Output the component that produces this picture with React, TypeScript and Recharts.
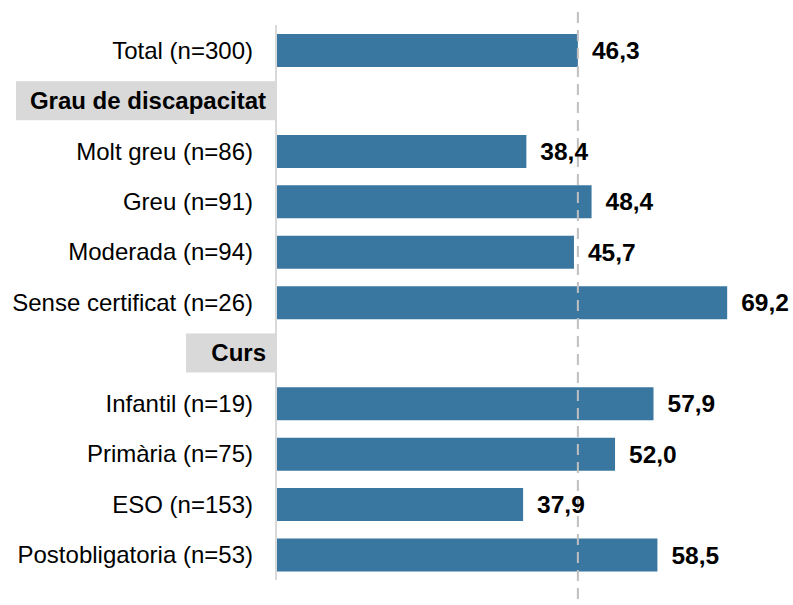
import { BarChart, Bar, XAxis, YAxis, LabelList, ReferenceLine } from "recharts";

const CATEGORIES = [
  "Total (n=300)",
  "Grau de discapacitat",
  "Molt greu (n=86)",
  "Greu (n=91)",
  "Moderada (n=94)",
  "Sense certificat (n=26)",
  "Curs",
  "Infantil (n=19)",
  "Primària (n=75)",
  "ESO (n=153)",
  "Postobligatoria (n=53)",
];

const VALUES: (number | null)[] = [46.3, null, 38.4, 48.4, 45.7, 69.2, null, 57.9, 52.0, 37.9, 58.5];

const HEADERS = ["Grau de discapacitat", "Curs"];

const TOTAL = 46.3;

const FONT = "'Liberation Sans', Arial, sans-serif";
const BAR_COLOR = "#3a77a0";

// grey boxes behind the section headers
const HEADER_BOX: Record<string, number> = {
  "Grau de discapacitat": 259,
  Curs: 89,
};

const data = CATEGORIES.map((name, i) => ({ name, value: VALUES[i] }));

const fmt = (v: number) => v.toFixed(1).replace(".", ",");

const CategoryTick = ({ x, y, payload }: any) => {
  const label = payload.value as string;
  if (HEADERS.includes(label)) {
    const w = HEADER_BOX[label];
    return (
      <g>
        <rect x={x - w - 1} y={y - 19.5} width={w} height={39} fill="#d9d9d9" />
        <text
          x={x - 10}
          y={y}
          dy="0.35em"
          textAnchor="end"
          fontFamily={FONT}
          fontSize={24}
          fontWeight="bold"
          fill="#000"
        >
          {label}
        </text>
      </g>
    );
  }
  return (
    <text x={x - 23} y={y} dy="0.35em" textAnchor="end" fontFamily={FONT} fontSize={24} fill="#000">
      {label}
    </text>
  );
};

const ValueLabel = ({ x, y, width, height, value }: any) => {
  if (value == null) return null;
  return (
    <text
      x={x + width + 14}
      y={y + height / 2}
      dy="0.35em"
      fontFamily={FONT}
      fontSize={24.5}
      fontWeight="bold"
      fill="#000"
    >
      {fmt(value)}
    </text>
  );
};

const DashedLine = ({ x1, y1, x2, y2 }: any) => (
  <line
    x1={x1}
    x2={x2}
    y1={Math.min(y1, y2) - 13}
    y2={Math.max(y1, y2) + 30}
    stroke="#bfbfbf"
    strokeWidth={2}
    strokeDasharray="11 7"
  />
);

export default function App() {
  return (
    <div style={{ position: "absolute", left: 0, top: 0, background: "#fff" }}>
      <BarChart
        width={793}
        height={605}
        data={data}
        layout="vertical"
        margin={{ top: 25, right: 28, bottom: 25, left: 0 }}
      >
        <XAxis type="number" domain={[0, 75]} hide />
        <YAxis
          type="category"
          dataKey="name"
          width={276}
          tick={<CategoryTick />}
          tickLine={false}
          tickSize={0}
          tickMargin={0}
          axisLine={{ stroke: "#d9d9d9", strokeWidth: 2 }}
          interval={0}
        />
        <Bar dataKey="value" fill={BAR_COLOR} barSize={33} isAnimationActive={false}>
          <LabelList dataKey="value" content={<ValueLabel />} />
        </Bar>
        <ReferenceLine x={TOTAL} shape={<DashedLine />} ifOverflow="visible" />
      </BarChart>
    </div>
  );
}
